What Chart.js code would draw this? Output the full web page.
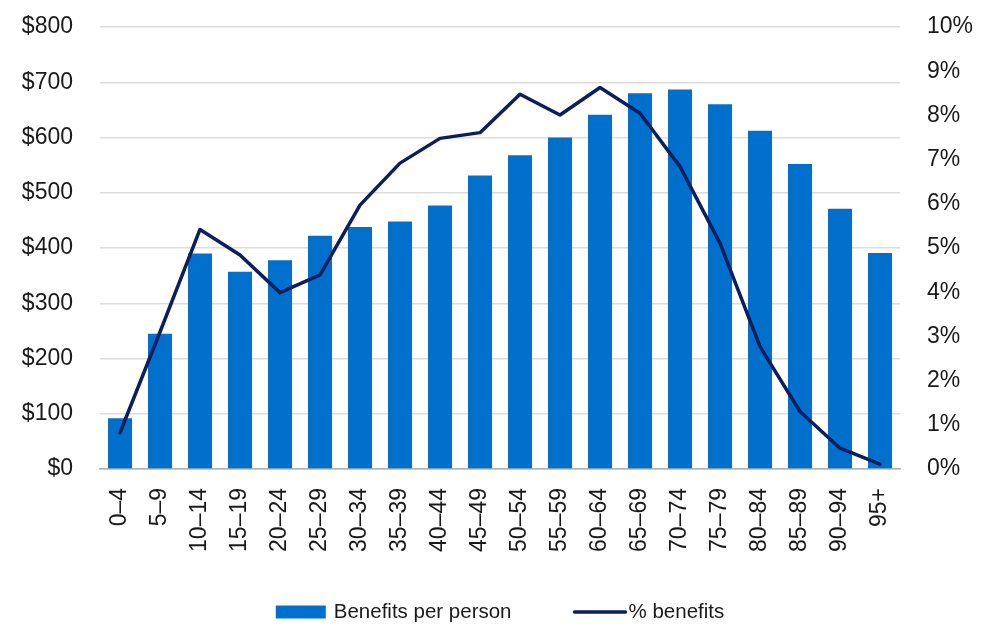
<!DOCTYPE html>
<html>
<head>
    <title>Benefits by age</title>
    <script src="https://cdn.jsdelivr.net/npm/chart.js"></script>
    <style>
        html, body { margin: 0; padding: 0; background: #fff; }
        #wrap { width: 983px; height: 626px; }
    </style>
</head>
<body>
    <div id="wrap"><canvas id="benefitsChart" width="983" height="626"></canvas></div>

    <script>
        // age groups
        const ageGroups = ['0–4', '5–9', '10–14', '15–19', '20–24', '25–29', '30–34', '35–39', '40–44', '45–49',
                           '50–54', '55–59', '60–64', '65–69', '70–74', '75–79', '80–84', '85–89', '90–94', '95+'];
        // benefits per person ($)
        const benefitsPerPerson = [92, 245, 390, 357, 378, 422, 438, 448, 477, 531,
                                   568, 600, 641, 680, 687, 660, 612, 552, 471, 391];
        // share of total benefits (%)
        const pctBenefits = [0.82, 3.1, 5.42, 4.84, 3.99, 4.39, 5.97, 6.92, 7.48, 7.61,
                             8.48, 8.01, 8.63, 8.05, 6.84, 5.11, 2.77, 1.30, 0.47, 0.11];

        const BAR_BLUE = '#0070CC';
        const NAVY = '#0B1F5E';
        const FONT = 'Liberation Sans, Arial, sans-serif';
        const TEXT = '#1a1a1a';

        Chart.defaults.font.family = FONT;
        Chart.defaults.color = TEXT;

        // keep the plot area where we put it: no extra room for half labels
        const fixVertical = width => s => {
            s.width = width;
            s.paddingTop = 0;
            s.paddingBottom = 0;
        };

        // legend row under the axis labels, centred a little right of the canvas middle
        const bottomLegend = {
            id: 'bottomLegend',
            afterDraw(chart) {
                const c = chart.ctx;
                const items = chart.data.datasets.map(ds => ({
                    text: ds.label,
                    type: ds.type,
                    color: ds.type === 'bar' ? ds.backgroundColor : ds.borderColor
                }));
                c.save();
                c.font = '20.5px ' + FONT;
                c.textBaseline = 'middle';
                const swatchW = [50, 53], textGap = [8, 2], itemGap = 62;
                const widths = items.map((it, i) => swatchW[i] + textGap[i] + c.measureText(it.text).width);
                const total = widths[0] + itemGap + widths[1];
                let x = 500 - total / 2;
                const y = 612;
                items.forEach((it, i) => {
                    if (it.type === 'bar') {
                        c.fillStyle = it.color;
                        c.fillRect(x, y - 6.5, swatchW[i], 13);
                    } else {
                        c.strokeStyle = it.color;
                        c.lineWidth = 3.5;
                        c.lineCap = 'round';
                        c.beginPath();
                        c.moveTo(x + 1, y);
                        c.lineTo(x + swatchW[i] - 1, y);
                        c.stroke();
                    }
                    c.fillStyle = TEXT;
                    c.fillText(it.text, x + swatchW[i] + textGap[i], y);
                    x += widths[i] + itemGap;
                });
                c.restore();
            }
        };

        const ctx = document.getElementById('benefitsChart').getContext('2d');
        const benefitsChart = new Chart(ctx, {
            type: 'bar',
            data: {
                labels: ageGroups,
                datasets: [{
                    type: 'bar',
                    label: 'Benefits per person',
                    data: benefitsPerPerson,
                    backgroundColor: BAR_BLUE,
                    barPercentage: 0.6,
                    categoryPercentage: 1.0,
                    yAxisID: 'y',
                    order: 2
                }, {
                    type: 'line',
                    label: '% benefits',
                    data: pctBenefits,
                    borderColor: NAVY,
                    borderWidth: 3.5,
                    borderCapStyle: 'round',
                    borderJoinStyle: 'round',
                    pointRadius: 0,
                    tension: 0,
                    yAxisID: 'y2',
                    order: 1
                }]
            },
            plugins: [bottomLegend],
            options: {
                responsive: false,
                animation: false,
                layout: { padding: { top: 27, left: 0, right: 0, bottom: 67 } },
                plugins: {
                    tooltip: { enabled: false },
                    legend: { display: false }
                },
                scales: {
                    x: {
                        grid: { display: false, drawTicks: false },
                        border: { display: true, color: '#adadad', width: 1.5 },
                        ticks: { font: { size: 23 }, minRotation: 90, maxRotation: 90, padding: 19, autoSkip: false },
                        afterFit: s => { s.height = 90; }
                    },
                    y: {
                        position: 'left',
                        min: 0, max: 800,
                        grid: { color: '#dcdcdc', lineWidth: 1.5, drawTicks: false },
                        border: { display: false },
                        ticks: { stepSize: 100, font: { size: 23 }, padding: 27, callback: v => '$' + v },
                        afterFit: fixVertical(100)
                    },
                    y2: {
                        position: 'right',
                        min: 0, max: 10,
                        grid: { display: false, drawTicks: false },
                        border: { display: false },
                        ticks: { stepSize: 1, font: { size: 23 }, padding: 27, callback: v => v + '%' },
                        afterFit: fixVertical(83)
                    }
                }
            }
        });
    </script>
</body>
</html>
